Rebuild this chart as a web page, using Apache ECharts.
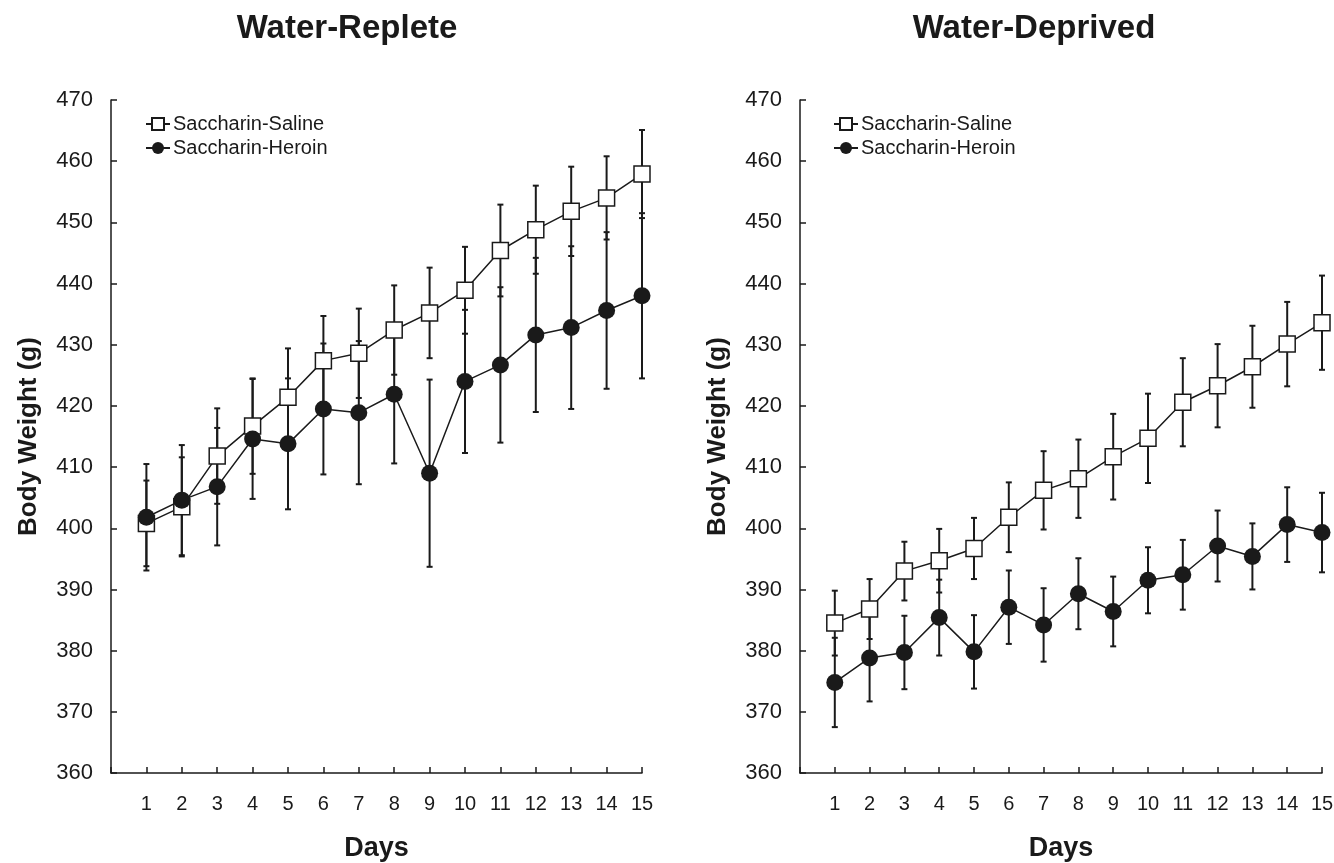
<!DOCTYPE html>
<html>
<head>
<meta charset="utf-8">
<script src="https://cdn.jsdelivr.net/npm/echarts@6/dist/echarts.min.js"></script>
<style>
  html, body { margin: 0; padding: 0; background: #fff; }
  #main { width: 1334px; height: 863px; }
</style>
</head>
<body>
<div id="main"></div>
<script>
// days on the x axis
var days = [1, 2, 3, 4, 5, 6, 7, 8, 9, 10, 11, 12, 13, 14, 15];

// Water-Replete panel (mean body weight, g, and error half-width)
var repSaline    = [400.8, 403.5, 411.8, 416.7, 421.4, 427.4, 428.6, 432.4, 435.2, 438.9, 445.4, 448.8, 451.8, 454.0, 457.9];
var repSalineErr = [7.0, 8.1, 7.8, 7.8, 8.0, 7.3, 7.3, 7.3, 7.4, 7.1, 7.5, 7.2, 7.3, 6.8, 7.2];
var repHeroin    = [401.8, 404.6, 406.8, 414.6, 413.8, 419.5, 418.9, 421.9, 409.0, 424.0, 426.7, 431.6, 432.8, 435.6, 438.0];
var repHeroinErr = [8.7, 9.0, 9.6, 9.8, 10.7, 10.7, 11.7, 11.3, 15.3, 11.7, 12.7, 12.6, 13.3, 12.8, 13.5];

// Water-Deprived panel
var depSaline    = [384.5, 386.8, 393.0, 394.7, 396.7, 401.8, 406.2, 408.1, 411.7, 414.7, 420.6, 423.3, 426.4, 430.1, 433.6];
var depSalineErr = [5.3, 4.9, 4.8, 5.2, 5.0, 5.7, 6.4, 6.4, 7.0, 7.3, 7.2, 6.8, 6.7, 6.9, 7.7];
var depHeroin    = [374.8, 378.8, 379.7, 385.4, 379.8, 387.1, 384.2, 389.3, 386.4, 391.5, 392.4, 397.1, 395.4, 400.6, 399.3];
var depHeroinErr = [7.3, 7.1, 6.0, 6.2, 6.0, 6.0, 6.0, 5.8, 5.7, 5.4, 5.7, 5.8, 5.4, 6.1, 6.5];

var panelTitles = ['Water-Replete', 'Water-Deprived'];
var seriesNames = ['Saccharin-Saline', 'Saccharin-Heroin'];

var FONT = '"Liberation Sans", Arial, sans-serif';
var INK = '#1a1a1a';

function points(vals) {
    return days.map(function (d, i) { return [d, vals[i]]; });
}
function errData(vals, errs) {
    return days.map(function (d, i) { return [d, vals[i] - errs[i], vals[i] + errs[i]]; });
}

// error bars drawn as vertical line + caps
function renderErr(params, api) {
    var x = api.value(0);
    var lo = api.coord([x, api.value(1)]);
    var hi = api.coord([x, api.value(2)]);
    var cap = 3;
    var st = { stroke: INK, lineWidth: 2 };
    return {
        type: 'group',
        children: [
            { type: 'line', shape: { x1: lo[0], y1: lo[1], x2: hi[0], y2: hi[1] }, style: st },
            { type: 'line', shape: { x1: lo[0] - cap, y1: lo[1], x2: lo[0] + cap, y2: lo[1] }, style: st },
            { type: 'line', shape: { x1: hi[0] - cap, y1: hi[1], x2: hi[0] + cap, y2: hi[1] }, style: st }
        ]
    };
}

function xAxisFor(gi) {
    return {
        type: 'value', gridIndex: gi, min: 0, max: 15, interval: 1,
        name: 'Days', nameLocation: 'middle', nameGap: 62,
        nameTextStyle: { fontFamily: FONT, fontSize: 27, fontWeight: 'bold', color: INK },
        axisLine: { show: true, lineStyle: { color: INK, width: 1.5 } },
        axisTick: { show: true, inside: true, length: 6, lineStyle: { color: INK, width: 1.5 } },
        axisLabel: {
            fontFamily: FONT, fontSize: 20, color: INK, margin: 21,
            formatter: function (v) { return v === 0 ? '' : String(v); }
        },
        splitLine: { show: false }
    };
}
function yAxisFor(gi) {
    return {
        type: 'value', gridIndex: gi, min: 360, max: 470, interval: 10,
        name: 'Body Weight (g)', nameLocation: 'middle', nameGap: 69,
        nameTextStyle: { fontFamily: FONT, fontSize: 26, fontWeight: 'bold', color: INK },
        axisLine: { show: true, lineStyle: { color: INK, width: 1.5 } },
        axisTick: { show: true, inside: true, length: 6, lineStyle: { color: INK, width: 1.5 } },
        axisLabel: { fontFamily: FONT, fontSize: 22, color: INK, margin: 18 },
        splitLine: { show: false }
    };
}

function salineLine(gi, vals) {
    return {
        name: seriesNames[0], type: 'line', xAxisIndex: gi, yAxisIndex: gi,
        data: points(vals), symbol: 'rect', symbolSize: 16, z: 5,
        lineStyle: { color: INK, width: 1.5 },
        itemStyle: { color: '#fff', borderColor: INK, borderWidth: 1.5 },
        emphasis: { disabled: true }, animation: false
    };
}
function heroinLine(gi, vals) {
    return {
        name: seriesNames[1], type: 'line', xAxisIndex: gi, yAxisIndex: gi,
        data: points(vals), symbol: 'circle', symbolSize: 17, z: 6,
        lineStyle: { color: INK, width: 1.5 },
        itemStyle: { color: INK, borderColor: INK, borderWidth: 0 },
        emphasis: { disabled: true }, animation: false
    };
}
function errSeries(gi, vals, errs) {
    return {
        type: 'custom', xAxisIndex: gi, yAxisIndex: gi, z: 3,
        data: errData(vals, errs), renderItem: renderErr,
        encode: { x: 0, y: [1, 2] }, silent: true, animation: false
    };
}

function legendFor(left) {
    return {
        left: left, top: 109, orient: 'vertical',
        itemWidth: 24, itemHeight: 15, itemGap: 4,
        data: seriesNames,
        textStyle: { fontFamily: FONT, fontSize: 20, color: INK, padding: [0, 0, 0, -2] },
        selectedMode: false
    };
}

var chart = echarts.init(document.getElementById('main'));
chart.setOption({
    backgroundColor: '#fff',
    animation: false,
    graphic: [
        { type: 'text', x: 347, y: 29, style: { text: panelTitles[0], fontFamily: FONT, fontSize: 33, fontWeight: 'bold', fill: INK, textAlign: 'center', textVerticalAlign: 'middle' } },
        { type: 'text', x: 1034, y: 29, style: { text: panelTitles[1], fontFamily: FONT, fontSize: 33, fontWeight: 'bold', fill: INK, textAlign: 'center', textVerticalAlign: 'middle' } }
    ],
    legend: [legendFor(140), legendFor(828)],
    grid: [
        { left: 111, right: 692, top: 100, bottom: 90, containLabel: false, outerBoundsMode: 'none' },
        { left: 800, right: 12, top: 100, bottom: 90, containLabel: false, outerBoundsMode: 'none' }
    ],
    xAxis: [xAxisFor(0), xAxisFor(1)],
    yAxis: [yAxisFor(0), yAxisFor(1)],
    series: [
        errSeries(0, repSaline, repSalineErr),
        errSeries(0, repHeroin, repHeroinErr),
        salineLine(0, repSaline),
        heroinLine(0, repHeroin),
        errSeries(1, depSaline, depSalineErr),
        errSeries(1, depHeroin, depHeroinErr),
        salineLine(1, depSaline),
        heroinLine(1, depHeroin)
    ]
});
</script>
</body>
</html>
